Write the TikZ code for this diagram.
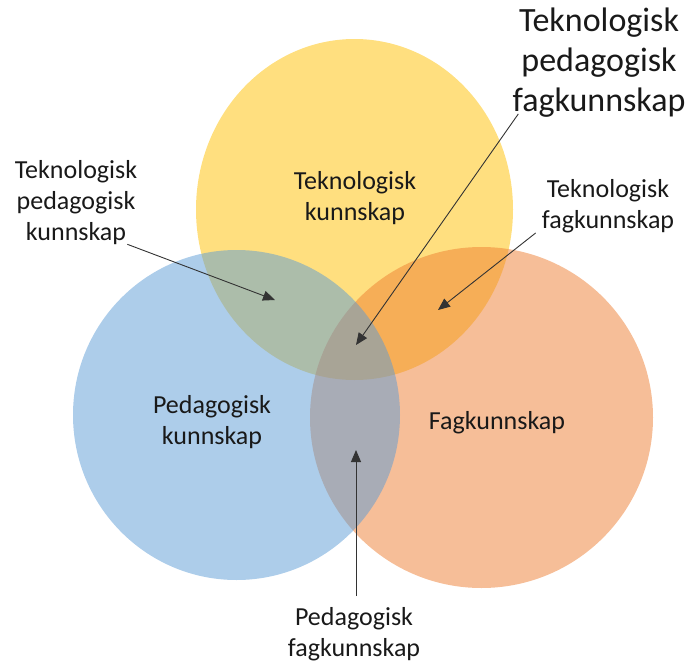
\documentclass[tikz,border=0pt]{standalone}
\usepackage{fontspec}
\setmainfont{Carlito}
\usetikzlibrary{arrows.meta}

\definecolor{techgold}{RGB}{255,192,0}
\definecolor{pedblue}{RGB}{91,155,213}
\definecolor{fagorange}{RGB}{237,125,49}

\begin{document}
\begin{tikzpicture}[x=1pt,y=-1pt,
    label/.style={align=center, inner sep=0pt, text=black!90, font=\fontsize{26}{31}\selectfont},
    biglabel/.style={label, font=\fontsize{34}{40}\selectfont},
    pointer/.style={draw=black!80, line width=0.9pt, -{Triangle[length=12pt,width=10pt]}}]
        \useasboundingbox (0,0) rectangle (697,664);

        % Draw the three circles (half transparent)
        \fill[techgold, fill opacity=0.5] (354.5,209.5) ellipse [x radius=158.5pt, y radius=170.5pt];
        \fill[fagorange, fill opacity=0.5] (481.5,417.5) ellipse [x radius=171.5pt, y radius=170.5pt];
        \fill[pedblue, fill opacity=0.5] (236.5,415) ellipse [x radius=163.5pt, y radius=165pt];

        % Labels inside the circles
        \node[label] (tk) at (355,198) {Teknologisk\\kunnskap};
        \node[label] (pk) at (212,422) {Pedagogisk\\kunnskap};
        \node[label] (fk) at (497,423) {Fagkunnskap};

        % Labels for the overlaps
        \node[label] (tpk) at (76,203) {Teknologisk\\pedagogisk\\kunnskap};
        \node[label] (tfk) at (608,206) {Teknologisk\\fagkunnskap};
        \node[label] (pfk) at (354,634) {Pedagogisk\\fagkunnskap};
        \node[biglabel] (tpfk) at (599,63) {Teknologisk\\pedagogisk\\fagkunnskap};

        % Arrow tips
        \coordinate (tpk-tip) at (275,300);
        \coordinate (tfk-tip) at (438,310);
        \coordinate (pfk-tip) at (356,450);
        \coordinate (tpfk-tip) at (356,345);

        % Draw the pointers
        \draw[pointer] ([xshift=-10pt,yshift=1pt]tpk.south east) -- (tpk-tip);
        \draw[pointer] ([xshift=-6pt]tfk.south west) -- (tfk-tip);
        \draw[pointer] ([xshift=2pt,yshift=11pt]pfk.north) -- (pfk-tip);
        \draw[pointer] ([xshift=6pt,yshift=4pt]tpfk.south west) -- (tpfk-tip);

    \end{tikzpicture}
\end{document}
